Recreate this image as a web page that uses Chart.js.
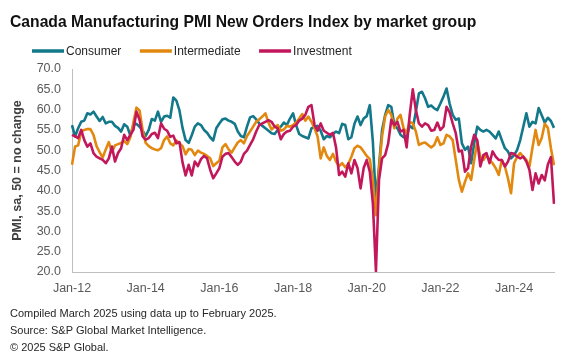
<!DOCTYPE html>
<html>
<head>
<meta charset="utf-8">
<script src="https://cdn.jsdelivr.net/npm/chart.js@4.4.1/dist/chart.umd.min.js"></script>
<style>
html, body { margin: 0; padding: 0; background: #fff; }
</style>
</head>
<body>
<canvas id="chart" width="576" height="358"></canvas>
<script>
const FONT = "Arial, 'Liberation Sans', sans-serif";

// Monthly, Jan-12 .. Feb-25
const START_YEAR = 2012;
const MONTH_COUNT = 158;
const MONTH_NAMES = ["Jan", "Feb", "Mar", "Apr", "May", "Jun", "Jul", "Aug", "Sep", "Oct", "Nov", "Dec"];
const tickLabels = ["Jan-12", "Jan-14", "Jan-16", "Jan-18", "Jan-20", "Jan-22", "Jan-24"];
const yTicks = [20, 25, 30, 35, 40, 45, 50, 55, 60, 65, 70];

const consumer = [
    56.2, 53.4, 55.4, 57.0, 57.3, 59.1, 58.8, 59.5, 58.3, 57.2, 58.2, 56.6,
    57.0, 57.0, 56.0, 55.5, 54.6, 56.4, 55.8, 53.6, 56.2, 56.5, 55.8, 54.8,
    53.5, 55.0, 57.7, 57.3, 59.5, 57.0, 58.3, 58.5, 58.0, 63.0, 62.2, 59.8,
    55.5, 52.5, 51.8, 53.7, 55.8, 56.6, 56.2, 55.0, 54.3, 53.2, 52.4, 55.4,
    56.6, 57.6, 57.8, 57.3, 57.0, 56.5, 54.6, 53.5, 53.2, 55.8, 58.1, 58.4,
    57.6, 56.6, 56.0, 55.4, 54.8, 54.2, 54.0, 55.0, 55.8, 56.8, 56.2, 57.8,
    59.1, 56.2, 54.0, 53.5, 53.2, 52.9, 55.4, 55.8, 56.0, 54.8, 52.7, 53.5,
    53.2, 54.0, 54.6, 54.2, 56.5, 56.2, 52.7, 53.2, 56.5, 58.3, 56.2, 57.8,
    58.4, 61.1, 52.1, 37.5, 46.0, 55.0, 58.7, 61.1, 60.7, 56.2, 55.4, 53.8,
    53.2, 53.5, 56.0, 55.4, 59.5, 64.0, 64.4, 62.8, 60.7, 61.0, 60.3, 59.9,
    61.5, 63.2, 65.2, 61.5, 58.7, 57.5, 57.8, 51.7, 50.1, 50.9, 46.8, 51.7,
    55.8, 55.0, 54.6, 55.0, 54.6, 53.8, 52.9, 54.6, 52.5, 50.5, 49.7, 48.0,
    48.8, 50.1, 52.5, 55.8, 59.1, 55.8, 57.0, 56.6, 60.4, 58.6, 56.8, 58.0,
    57.2, 55.5
];

const intermediate = [
    46.4, 50.9, 51.2, 54.6, 55.0, 55.2, 55.2, 53.8, 51.0, 49.5, 48.2, 50.2,
    52.0, 49.5, 51.2, 51.5, 51.8, 52.3, 51.5, 53.2, 56.8, 60.5, 59.8, 55.0,
    51.8, 51.0, 50.5, 50.2, 50.0, 50.5, 52.5, 53.4, 51.7, 51.2, 52.4, 51.7,
    51.0, 49.0, 50.3, 50.1, 48.8, 49.9, 49.4, 49.1, 48.6, 48.0, 46.1, 46.8,
    47.4, 50.7, 51.5, 50.2, 49.4, 50.7, 51.9, 52.5, 51.7, 53.5, 54.6, 55.8,
    57.0, 57.6, 58.3, 59.1, 56.8, 55.1, 55.8, 56.2, 54.8, 55.1, 56.0, 55.8,
    56.2, 56.8, 57.8, 58.9, 57.3, 58.3, 57.0, 55.4, 53.4, 48.0, 50.7, 48.6,
    47.6, 49.1, 47.2, 46.1, 46.8, 45.8, 46.6, 48.4, 50.5, 51.1, 50.7, 49.7,
    48.6, 47.8, 42.7, 34.0, 45.2, 53.4, 58.3, 59.9, 58.7, 55.4, 57.8, 58.7,
    55.4, 54.2, 57.0, 56.6, 54.6, 51.3, 51.7, 51.9, 51.3, 50.7, 51.3, 53.2,
    51.3, 51.7, 53.8, 53.4, 52.5, 47.6, 42.7, 39.8, 42.2, 44.3, 42.7, 47.6,
    52.1, 48.4, 47.6, 48.8, 47.6, 46.8, 45.6, 43.9, 47.6, 46.0, 43.1, 39.4,
    46.8, 48.4, 49.3, 48.4, 47.6, 46.0, 50.7, 55.0, 51.3, 53.0, 56.5, 55.5,
    50.5, 46.3
];

const investment = [
    53.8, 53.4, 53.0, 55.0, 52.5, 50.9, 51.7, 49.3, 48.4, 48.0, 47.6, 46.8,
    48.0, 50.9, 47.2, 49.3, 50.5, 53.8, 52.5, 53.8, 55.0, 59.5, 57.5, 53.4,
    52.6, 53.0, 54.0, 54.3, 53.0, 56.6, 55.3, 54.8, 53.3, 53.6, 51.7, 52.0,
    47.0, 43.8, 46.4, 43.8, 47.2, 46.1, 47.8, 48.6, 48.0, 45.2, 43.1, 44.3,
    45.6, 48.4, 49.1, 49.3, 48.3, 47.2, 46.4, 47.2, 49.1, 49.9, 51.3, 52.7,
    54.6, 56.2, 56.6, 57.0, 57.4, 57.0, 55.8, 55.4, 52.7, 54.0, 54.6, 54.8,
    55.8, 56.2, 57.3, 57.8, 58.7, 60.7, 61.1, 56.2, 54.8, 56.6, 54.8, 54.3,
    53.8, 54.3, 50.7, 43.9, 44.7, 43.5, 46.8, 44.3, 47.6, 45.6, 40.6, 45.6,
    47.6, 44.7, 36.9, 20.2, 42.7, 48.0, 48.8, 51.7, 57.5, 56.2, 57.0, 54.6,
    55.0, 50.7, 58.7, 65.0, 59.9, 56.6, 55.8, 56.6, 56.2, 54.8, 55.0, 56.8,
    55.0, 55.8, 60.7, 59.3, 56.6, 54.2, 49.7, 49.9, 44.7, 45.6, 50.9, 53.8,
    52.5, 46.0, 48.8, 49.3, 46.8, 49.7, 48.4, 47.6, 47.6, 46.0, 47.2, 49.3,
    49.1, 48.4, 48.0, 48.4, 47.2, 45.2, 40.2, 44.3, 41.8, 43.9, 42.6, 46.5,
    48.3, 36.8
];

const months = [];
for (let i = 0; i < MONTH_COUNT; i++) {
    const yy = String((START_YEAR + Math.floor(i / 12)) % 100).padStart(2, "0");
    months.push(`${MONTH_NAMES[i % 12]}-${yy}`);
}

const COLORS = {
    consumer: "#12788a",
    intermediate: "#e3880f",
    investment: "#c2185b",
};

// legend drawn as a row of line samples under the title
const headerLegend = {
    id: "headerLegend",
    afterDraw(chart) {
        const ctx = chart.ctx;
        ctx.save();
        ctx.font = `12px ${FONT}`;
        ctx.textBaseline = "middle";
        const y = 51;
        let x = 32;
        chart.data.datasets.forEach(ds => {
            ctx.strokeStyle = ds.borderColor;
            ctx.lineWidth = 3.5;
            ctx.beginPath();
            ctx.moveTo(x, y);
            ctx.lineTo(x + 32, y);
            ctx.stroke();
            ctx.fillStyle = "#262626";
            ctx.fillText(ds.label, x + 34, y + 0.5);
            x += 34 + ctx.measureText(ds.label).width + 18.5;
        });
        ctx.restore();
    },
};

function lineSet(label, data, color, order) {
    return {
        label,
        data,
        borderColor: color,
        backgroundColor: color,
        borderWidth: 2.6,
        borderJoinStyle: "round",
        pointRadius: 0,
        tension: 0,
        fill: false,
        order,
    };
}

new Chart(document.getElementById("chart").getContext("2d"), {
    type: "line",
    data: {
        labels: months,
        datasets: [
            lineSet("Consumer", consumer, COLORS.consumer, 2),
            lineSet("Intermediate", intermediate, COLORS.intermediate, 1),
            lineSet("Investment", investment, COLORS.investment, 0),
        ],
    },
    options: {
        responsive: false,
        animation: false,
        events: [],
        devicePixelRatio: 1,
        layout: { padding: { left: 10, right: 22, top: 0, bottom: 0 } },
        scales: {
            x: {
                type: "category",
                offset: false,
                grid: { display: false, drawTicks: false },
                border: { display: true, color: "#bfbfbf", width: 1 },
                ticks: {
                    autoSkip: false,
                    maxRotation: 0,
                    minRotation: 0,
                    padding: 9,
                    color: "#595959",
                    font: { family: FONT, size: 12.5 },
                    callback(value) {
                        const lab = this.getLabelForValue(value);
                        return tickLabels.includes(lab) ? lab : null;
                    },
                },
                afterFit(scale) { scale.height = 29; },
            },
            y: {
                min: yTicks[0],
                max: yTicks[yTicks.length - 1],
                grid: { display: false, drawTicks: false },
                border: { display: true, color: "#bfbfbf", width: 1 },
                ticks: {
                    stepSize: 5,
                    padding: 11,
                    color: "#595959",
                    font: { family: FONT, size: 12.5 },
                    callback: v => v.toFixed(1),
                },
                title: {
                    display: true,
                    text: "PMI, sa, 50 = no change",
                    color: "#404040",
                    font: { family: FONT, size: 12.5, weight: "bold" },
                    padding: 0,
                },
                afterFit(scale) { scale.width = 62; },
            },
        },
        plugins: {
            legend: { display: false },
            tooltip: { enabled: false },
            title: {
                display: true,
                text: "Canada Manufacturing PMI New Orders Index by market group",
                align: "start",
                color: "#111",
                font: { family: FONT, size: 15.7, weight: "bold" },
                padding: { top: 13.6, bottom: 36.6 },
            },
            subtitle: {
                display: true,
                position: "bottom",
                align: "start",
                text: [
                    "Compiled March 2025 using data up to February 2025.",
                    "Source: S&P Global Market Intelligence.",
                    "\u00a9 2025 S&P Global.",
                ],
                color: "#262626",
                font: { family: FONT, size: 11, lineHeight: "17px" },
                padding: { top: 4, bottom: 2 },
            },
        },
    },
    plugins: [headerLegend],
});
</script>
</body>
</html>
